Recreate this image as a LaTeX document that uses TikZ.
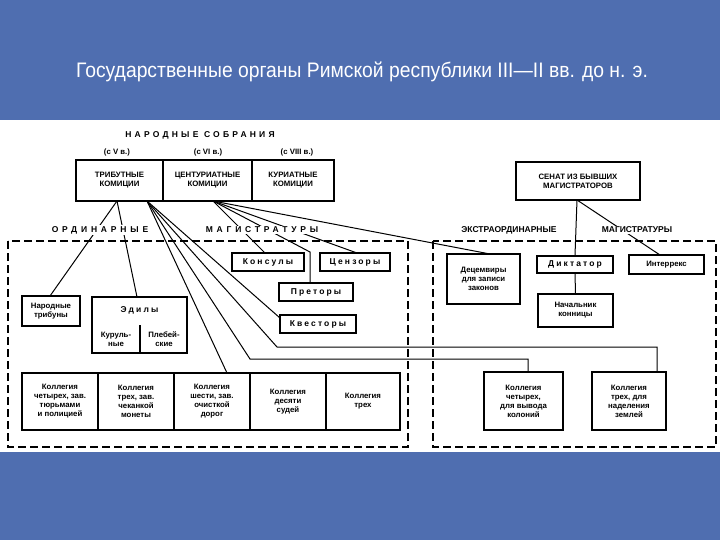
\documentclass[tikz,border=0pt]{standalone}
\usepackage{fontspec}
\setmainfont{Liberation Sans}
\usetikzlibrary{calc}
\definecolor{bgblue}{RGB}{79,110,176}
\tikzset{
  box/.style={draw, line width=1.3pt, inner sep=0pt, align=center, font=\bfseries\fontsize{7.8}{9}\selectfont},
  sp/.style={font=\bfseries\fontsize{8.5}{10}\selectfont\addfontfeatures{LetterSpace=25}},
  lbl/.style={fill=white, inner sep=1pt, font=\bfseries\fontsize{8.5}{10}\selectfont},
  ln/.style={line width=1pt},
  reg/.style={line width=1.2pt, dash pattern=on 8pt off 4pt}
}
\begin{document}
\begin{tikzpicture}[x=1pt,y=-1pt]
\fill[bgblue] (0,0) rectangle (720,540);
\fill[white] (0,120) rectangle (720,452);
\node[white, font=\fontsize{21}{24}\selectfont, xscale=0.92, transform shape] (title) at (362,72) {Государственные органы Римской республики III—II вв. до н. э.};

% regions
\draw[reg] (8,241) rectangle (408,447);
\draw[reg] (433,241) rectangle (716,447);

% top
\node[font=\bfseries\fontsize{8.5}{10}\selectfont\addfontfeatures{LetterSpace=38}] (ns) at (200,135) {НАРОДНЫЕ СОБРАНИЯ};
\node[font=\bfseries\fontsize{7.8}{9}\selectfont] (v5) at (117,152) {(с V в.)};
\node[font=\bfseries\fontsize{7.8}{9}\selectfont] (v6) at (208,152) {(с VI в.)};
\node[font=\bfseries\fontsize{7.8}{9}\selectfont] (v8) at (297,152) {(с VIII в.)};
\node[box, minimum width=87pt, minimum height=41pt] (trib) at (119.5,180.5) {ТРИБУТНЫЕ\\КОМИЦИИ};
\node[box, minimum width=89pt, minimum height=41pt] (cent) at (207.5,180.5) {ЦЕНТУРИАТНЫЕ\\КОМИЦИИ};
\node[box, minimum width=82pt, minimum height=41pt] (kur) at (293,180.5) {КУРИАТНЫЕ\\КОМИЦИИ};
\node[box, minimum width=124pt, minimum height=38pt] (sen) at (578,181) {СЕНАТ ИЗ БЫВШИХ\\МАГИСТРАТОРОВ};

% ordinary boxes
\node[box, sp, minimum width=72pt, minimum height=18pt] (kons) at (268,262) {Консулы};
\node[box, sp, minimum width=70pt, minimum height=18pt] (cenz) at (355,262) {Цензоры};
\node[box, sp, minimum width=74pt, minimum height=18pt] (pret) at (316,292) {Преторы};
\node[box, sp, minimum width=76pt, minimum height=18pt] (kvest) at (318,324) {Квесторы};
\node[box, minimum width=58pt, minimum height=30pt] (ntrib) at (51,311) {Народные\\трибуны};
\node[box, minimum width=95pt, minimum height=56pt] (edil) at (139.5,325) {};
\node[sp] (edt) at (139.5,310) {Эдилы};
\node[box, draw=none] (kur2) at (116,339) {Куруль-\\ные};
\node[box, draw=none] (pleb) at (164,339) {Плебей-\\ские};
\draw[line width=1.3pt] (140,325) -- (140,353);

\node[box, minimum width=76pt, minimum height=57pt] (k1) at (60,401.5) {Коллегия\\четырех, зав.\\тюрьмами\\и полицией};
\node[box, minimum width=76pt, minimum height=57pt] (k2) at (136,401.5) {Коллегия\\трех, зав.\\чеканкой\\монеты};
\node[box, minimum width=76pt, minimum height=57pt] (k3) at (212,401.5) {Коллегия\\шести, зав.\\очисткой\\дорог};
\node[box, minimum width=76pt, minimum height=57pt] (k4) at (288,401.5) {Коллегия\\десяти\\судей};
\node[box, minimum width=74pt, minimum height=57pt] (k5) at (363,401.5) {Коллегия\\трех};

% extraordinary boxes
\node[box, minimum width=73pt, minimum height=50pt] (dec) at (483.5,279) {Децемвиры\\для записи\\законов};
\node[box, sp, minimum width=76pt, minimum height=17pt] (dict) at (575,264.5) {Диктатор};
\node[box, minimum width=75pt, minimum height=19pt] (irx) at (666.5,264.5) {Интеррекс};
\node[box, minimum width=75pt, minimum height=33pt] (nach) at (575.5,310.5) {Начальник\\конницы};
\node[box, minimum width=79pt, minimum height=58pt] (kc4) at (523.5,401) {Коллегия\\четырех,\\для вывода\\колоний};
\node[box, minimum width=74pt, minimum height=58pt] (kc3) at (629,401) {Коллегия\\трех, для\\наделения\\землей};

% connectors
\coordinate (tp) at (117,201);
\coordinate (fp) at (147,201);
\coordinate (cp) at (213,201);
\coordinate (sp0) at (577,200);
\draw[ln] (tp) -- (50,296);
\draw[ln] (tp) -- (137,297);
\draw[ln] (fp) -- (227,373);
\draw[ln] (fp) -- (250,359) -- (528,359) -- (528,372);
\draw[ln] (fp) -- (277,347) -- (657,347) -- (657,372);
\draw[ln] (fp) -- (280,318);
\draw[ln] (cp) -- (265,253);
\draw[ln] (cp) -- (310,252) -- (310,283);
\draw[ln] (cp) -- (357,253);
\draw[ln] (cp) -- (490,254);
\draw[ln] (sp0) -- (dict.north);
\draw[ln] (dict.south) -- (nach.north);
\draw[ln] (sp0) -- (660,255);

% region labels
\node[lbl, font=\bfseries\fontsize{8.5}{10}\selectfont\addfontfeatures{LetterSpace=45}] (ord) at (100,230) {ОРДИНАРНЫЕ};
\node[lbl, font=\bfseries\fontsize{8.5}{10}\selectfont\addfontfeatures{LetterSpace=45}] (mag1) at (262,230) {МАГИСТРАТУРЫ};
\node[lbl] (ext) at (509,230) {ЭКСТРАОРДИНАРНЫЕ};
\node[lbl] (mag2) at (637,230) {МАГИСТРАТУРЫ};
\end{tikzpicture}
\end{document}
